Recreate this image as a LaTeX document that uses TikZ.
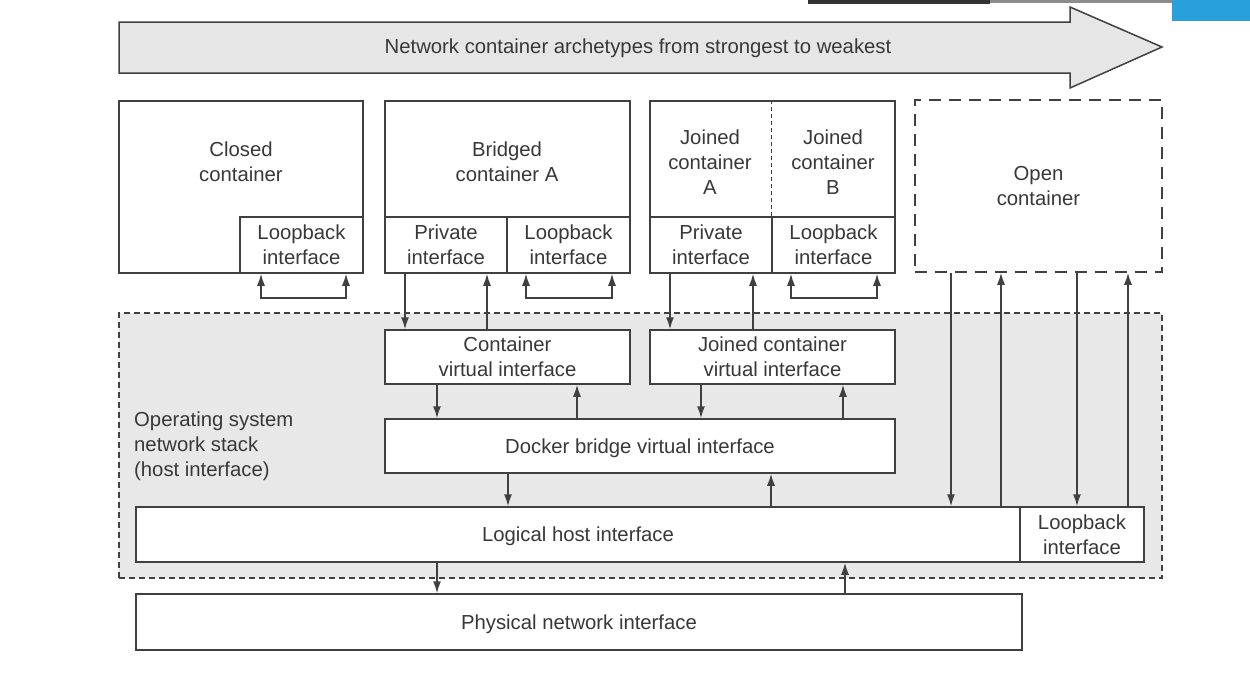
\documentclass[tikz,border=0pt]{standalone}
\usepackage{fontspec}
\setmainfont{Liberation Sans}
\usetikzlibrary{arrows.meta}
\definecolor{ln}{HTML}{404040}
\definecolor{tx}{HTML}{383838}
\definecolor{arrowfill}{HTML}{E6E6E6}
\definecolor{stackfill}{HTML}{E8E8E8}
\definecolor{topblue}{HTML}{27A0DC}
\begin{document}
\begin{tikzpicture}[x=1pt,y=-1pt,
  font=\fontsize{20.3}{25}\selectfont, text=tx,
  box/.style={draw=ln, line width=1.5pt, fill=white, inner sep=0pt, align=center, text depth=0pt},
  dbox/.style={draw=ln, line width=1.5pt, dash pattern=on 12pt off 8pt, inner sep=0pt, align=center},
  stack/.style={draw=ln, line width=1.5pt, dash pattern=on 6pt off 4pt, fill=stackfill, inner sep=0pt},
  lbl/.style={align=center, inner sep=0pt},
  arr/.style={draw=ln, line width=1.5pt, -{Latex[length=12pt,width=8pt]}},
  larr/.style={draw=ln, line width=1.5pt, {Latex[length=12pt,width=8pt]}-{Latex[length=12pt,width=8pt]}},
  bigarrow/.style={draw=ln, line width=1.5pt, fill=arrowfill},
]
\useasboundingbox (0,0) rectangle (1250,681);
% screen edge artifacts
\fill[black!80] (808,0) rectangle (990,4);
\fill[black!45] (990,0) rectangle (1172,3);
\fill[topblue] (1172,0) rectangle (1250,21);
% big arrow
\draw[bigarrow] (119,22) -- (1070,22) -- (1070,7) -- (1162,47) -- (1070,88) -- (1070,73) -- (119,73) -- cycle;
\node[lbl] (title) at (638,48) {Network container archetypes from strongest to weakest};
% OS stack
\node[stack, minimum width=1043pt, minimum height=265pt] (stack) at (640.5,445.5) {};
\node[lbl, align=left, anchor=west] (stacklbl) at (134,446) {Operating system\\network stack\\(host interface)};
% closed container
\node[box, minimum width=244pt, minimum height=172pt] (closed) at (241,187) {};
\node[lbl] (closedlbl) at (241,162) {Closed\\container};
\node[box, minimum width=123pt, minimum height=56pt] (clb) at (301.5,245) {Loopback\\interface};
% bridged container
\node[box, minimum width=245pt, minimum height=172pt] (bridged) at (507.5,187) {};
\node[lbl] (bridgedlbl) at (507,162) {Bridged\\container A};
\node[box, minimum width=122pt, minimum height=56pt] (bpriv) at (446,245) {Private\\interface};
\node[box, minimum width=123pt, minimum height=56pt] (blb) at (568.5,245) {Loopback\\interface};
% joined containers
\node[box, minimum width=245pt, minimum height=172pt] (joined) at (772.5,187) {};
\node[lbl] (jalbl) at (710,162) {Joined\\container\\A};
\node[lbl] (jblbl) at (833,162) {Joined\\container\\B};
\node[box, minimum width=122pt, minimum height=56pt] (jpriv) at (711,245) {Private\\interface};
\node[box, minimum width=123pt, minimum height=56pt] (jlb) at (833.5,245) {Loopback\\interface};
\draw[ln, line width=1.2pt, dash pattern=on 4pt off 3pt] (jlb.north west) -- (jlb.north west |- joined.north);
% open container
\node[dbox, minimum width=247pt, minimum height=172pt] (open) at (1038.5,186) {Open\\container};
% virtual interfaces
\node[box, minimum width=245pt, minimum height=54pt] (cvi) at (507.5,357) {Container\\virtual interface};
\node[box, minimum width=245pt, minimum height=54pt] (jcvi) at (772.5,357) {Joined container\\virtual interface};
\node[box, minimum width=510pt, minimum height=54pt] (bridge) at (640,446) {Docker bridge virtual interface};
% host
\node[box, minimum width=884pt, minimum height=55pt] (host) at (578,534.5) {Logical host interface};
\node[box, minimum width=124pt, minimum height=55pt] (hlb) at (1082,534.5) {Loopback\\interface};
\node[box, minimum width=886pt, minimum height=56pt] (phys) at (579,622) {Physical network interface};
% loopback arrows
\draw[larr] (clb.south -| 261,0) -- ++(0,24) -| (clb.south -| 346,0);
\draw[larr] (blb.south -| 526,0) -- ++(0,24) -| (blb.south -| 612,0);
\draw[larr] (jlb.south -| 791,0) -- ++(0,24) -| (jlb.south -| 877,0);
% container to virtual interfaces
\draw[arr] (bpriv.south -| 405,0) -- (cvi.north -| 405,0);
\draw[arr] (cvi.north -| 487,0) -- (bpriv.south -| 487,0);
\draw[arr] (jpriv.south -| 670,0) -- (jcvi.north -| 670,0);
\draw[arr] (jcvi.north -| 753,0) -- (jpriv.south -| 753,0);
% virtual to bridge
\draw[arr] (cvi.south -| 437,0) -- (bridge.north -| 437,0);
\draw[arr] (bridge.north -| 577,0) -- (cvi.south -| 577,0);
\draw[arr] (jcvi.south -| 701,0) -- (bridge.north -| 701,0);
\draw[arr] (bridge.north -| 843,0) -- (jcvi.south -| 843,0);
% bridge to host
\draw[arr] (bridge.south -| 508,0) -- (host.north -| 508,0);
\draw[arr] (host.north -| 771,0) -- (bridge.south -| 771,0);
% open container to host
\draw[arr] (open.south -| 951,0) -- (host.north -| 951,0);
\draw[arr] (host.north -| 1001,0) -- (open.south -| 1001,0);
\draw[arr] (open.south -| 1077,0) -- (hlb.north -| 1077,0);
\draw[arr] (hlb.north -| 1128,0) -- (open.south -| 1128,0);
% host to physical
\draw[arr] (host.south -| 437,0) -- (phys.north -| 437,0);
\draw[arr] (phys.north -| 845,0) -- (host.south -| 845,0);
\end{tikzpicture}
\end{document}
